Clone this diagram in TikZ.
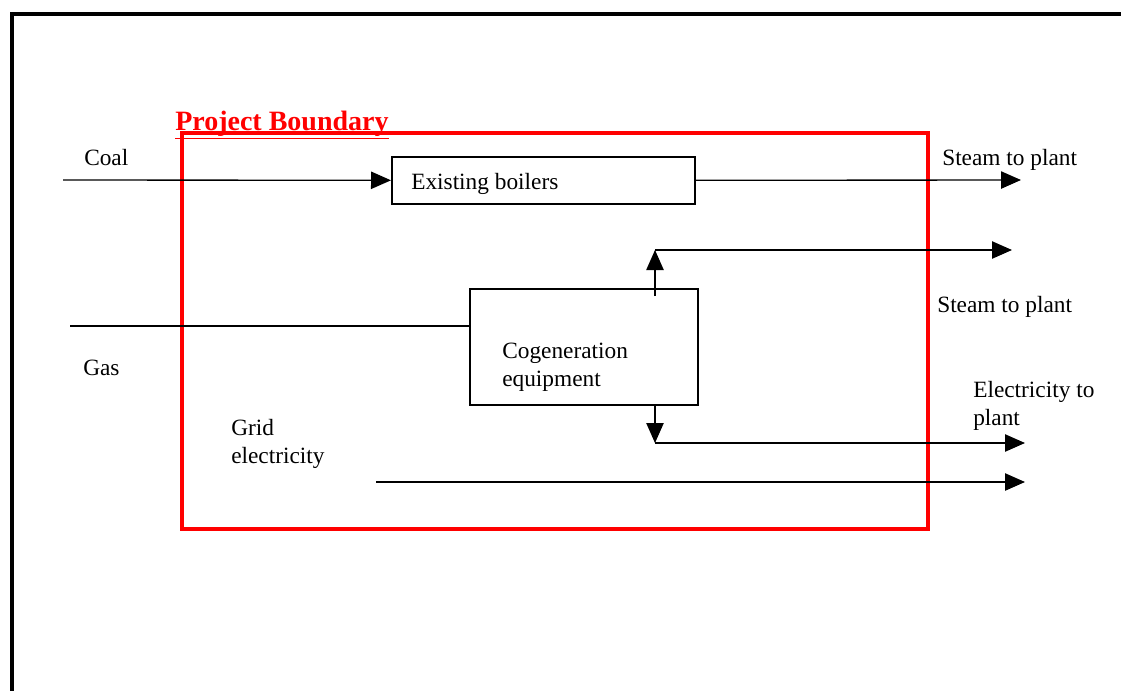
\documentclass[tikz,border=0pt]{standalone}
\usepackage{fontspec}
\setmainfont{Liberation Serif}
\usetikzlibrary{arrows.meta}
\begin{document}
\begin{tikzpicture}[x=0.75pt,y=-0.75pt,
  every node/.style={font=\fontsize{17.5}{20.7}\selectfont, inner sep=0pt},
  lbl/.style={anchor=base west, align=left},
  flow/.style={line width=1pt, -{Triangle[length=15pt,width=13pt]}},
  plain/.style={line width=1pt},
  procbox/.style={draw, line width=1.2pt, rectangle},
  boundary/.style={draw=red, line width=3pt}
]
\useasboundingbox (0,0) rectangle (1121,690);
% outer frame (cut off at right and bottom)
\draw[line width=3pt] (12,700) -- (12,14) -- (1130,14);
% project boundary
\draw[boundary] (182,133) rectangle (928,529);
\node[lbl, text=red, font=\fontsize{21}{24}\selectfont\bfseries] (pb) at (175,130) {\underline{Project Boundary}};
% process boxes
\node[procbox, minimum width=303*0.75pt, minimum height=47*0.75pt, anchor=north west] (boil) at (391,156) {};
\node[lbl] (boiltxt) at (411,189) {Existing boilers};
\node[procbox, minimum width=228*0.75pt, minimum height=116*0.75pt, anchor=north west] (cogen) at (469,288) {};
\node[lbl] (cogentxt) at (502,386) {Cogeneration\\equipment};
% labels
\node[lbl] (coal) at (84,165) {Coal};
\node[lbl] (gas) at (83,375) {Gas};
\node[lbl] (grid) at (231,463) {Grid\\electricity};
\node[lbl] (steam1) at (942,165) {Steam to plant};
\node[lbl] (steam2) at (937,312) {Steam to plant};
\node[lbl] (elec) at (973,425) {Electricity to\\plant};
% coordinates
\coordinate (coalin) at (63,180);
\coordinate (steamout1) at (1021,180);
\coordinate (gasin) at (70,326);
\coordinate (upstart) at (655,296);
\coordinate (upend) at (655,250);
\coordinate (steamout2) at (1012,250);
\coordinate (downstart) at (655,404);
\coordinate (downend) at (655,443);
\coordinate (elecout) at (1025,443);
\coordinate (gridin) at (376,482);
\coordinate (gridout) at (1025,482);
% connectors
\draw[flow] (coalin) -- (boil.west);
\draw[flow] (boil.east) -- (steamout1);
\draw[plain] (gasin) -- (gasin -| cogen.west);
\draw[flow] (upstart) -- (upend);
\draw[flow] (upend) -- (steamout2);
\draw[flow] (downstart) -- (downend);
\draw[flow] (downend) -- (elecout);
\draw[flow] (gridin) -- (gridout);
\end{tikzpicture}
\end{document}
